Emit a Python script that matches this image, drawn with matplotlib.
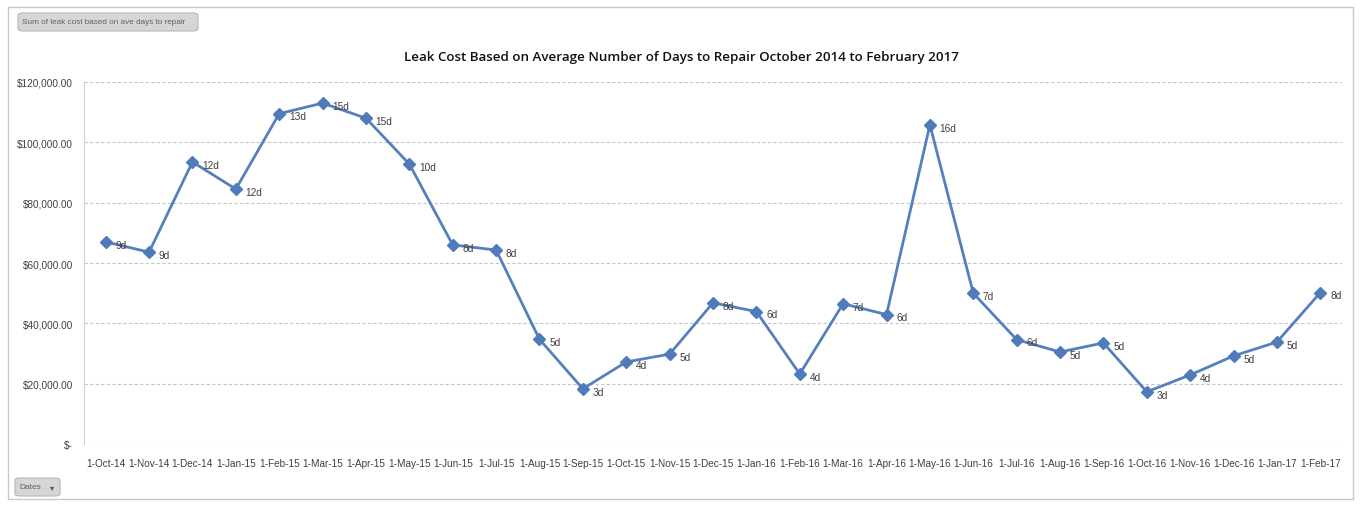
import matplotlib.pyplot as plt
from matplotlib.patches import FancyBboxPatch, Rectangle
from matplotlib.ticker import FuncFormatter

plt.rcParams['font.family'] = ['Liberation Sans', 'DejaVu Sans']

dates = ["1-Oct-14", "1-Nov-14", "1-Dec-14", "1-Jan-15", "1-Feb-15", "1-Mar-15",
         "1-Apr-15", "1-May-15", "1-Jun-15", "1-Jul-15", "1-Aug-15", "1-Sep-15",
         "1-Oct-15", "1-Nov-15", "1-Dec-15", "1-Jan-16", "1-Feb-16", "1-Mar-16",
         "1-Apr-16", "1-May-16", "1-Jun-16", "1-Jul-16", "1-Aug-16", "1-Sep-16",
         "1-Oct-16", "1-Nov-16", "1-Dec-16", "1-Jan-17", "1-Feb-17"]
leak_cost = [67000, 63600, 93500, 84500, 109500, 113000, 108000, 92800, 66000,
             64300, 34700, 18300, 27200, 29800, 46800, 43900, 23200, 46500,
             42900, 105800, 50000, 34600, 30500, 33500, 17300, 22900, 29200,
             33800, 50200]
days = ["9d", "9d", "12d", "12d", "13d", "15d", "15d", "10d", "8d", "8d", "5d", "3d",
        "4d", "5d", "8d", "6d", "4d", "7d", "6d", "16d", "7d", "6d", "5d", "5d",
        "3d", "4d", "5d", "5d", "8d"]

W, H = 1360, 506
fig = plt.figure(figsize=(W / 100, H / 100), dpi=100)

# outer chart border
fig.patches.append(Rectangle((8 / W, 1 - 500 / H), (1353 - 8) / W, (500 - 8) / H,
                             transform=fig.transFigure, fill=False,
                             edgecolor='#c8c8c8', linewidth=1))

ax = fig.add_axes([84 / W, 1 - 445 / H, (1342 - 84) / W, (445 - 83) / H])
x = list(range(len(dates)))
ax.plot(x, leak_cost, color='#5580bd', linewidth=2, marker='D', markersize=6,
        markerfacecolor='#4f7bbb', markeredgecolor='#4f7bbb')
for i, v in enumerate(leak_cost):
    ax.annotate(days[i], (i, v), xytext=(7, -2), textcoords='offset points',
                fontsize=7.3, color='#404040', va='center', ha='left')

ax.set_xlim(-0.5, len(dates) - 0.5)
ax.set_ylim(0, 120000)
ax.set_yticks(range(0, 120001, 20000))
ax.yaxis.set_major_formatter(FuncFormatter(lambda v, p: "$-" if v == 0 else "${:,.2f}".format(v)))
ax.set_xticks(x)
ax.set_xticklabels(dates)
ax.tick_params(axis='both', length=0, labelsize=7.2, colors='#404040')
ax.tick_params(axis='x', pad=10)
ax.tick_params(axis='y', pad=8)
ax.grid(axis='y', color='#c4c4cc', linestyle=(0, (3, 2)), linewidth=0.8)
for s in ['top', 'right', 'bottom']:
    ax.spines[s].set_visible(False)
ax.spines['left'].set_color('#d0d0d0')
ax.spines['left'].set_linewidth(0.8)
ax.set_axisbelow(True)

fig.text(681 / W, 1 - 58 / H, "Leak Cost Based on Average Number of Days to Repair October 2014 to February 2017",
         ha='center', va='center', fontsize=9.6, color='#111111', weight='semibold',
         family=['Open Sans', 'DejaVu Sans'])

# field buttons
fig.patches.append(FancyBboxPatch((18 / W, 1 - 32 / H), 180 / W, 18 / H,
                                  boxstyle='round,pad=0,rounding_size=0.004',
                                  transform=fig.transFigure, facecolor='#d6d6d8',
                                  edgecolor='#b8b8bc', linewidth=0.8))
fig.text(22 / W, 1 - 23 / H, "Sum of leak cost based on ave days to repair",
         ha='left', va='center', fontsize=5.9, color='#606060')
fig.patches.append(FancyBboxPatch((15 / W, 1 - 497 / H), 45 / W, 18 / H,
                                  boxstyle='round,pad=0,rounding_size=0.004',
                                  transform=fig.transFigure, facecolor='#d6d6d8',
                                  edgecolor='#b8b8bc', linewidth=0.8))
fig.text(19 / W, 1 - 488 / H, "Dates", ha='left', va='center', fontsize=6, color='#606060')
fig.text(52 / W, 1 - 488 / H, "\u25be", ha='center', va='center', fontsize=6,
         color='#505050', family=['DejaVu Sans'])

fig.savefig('out.png', dpi=100)
